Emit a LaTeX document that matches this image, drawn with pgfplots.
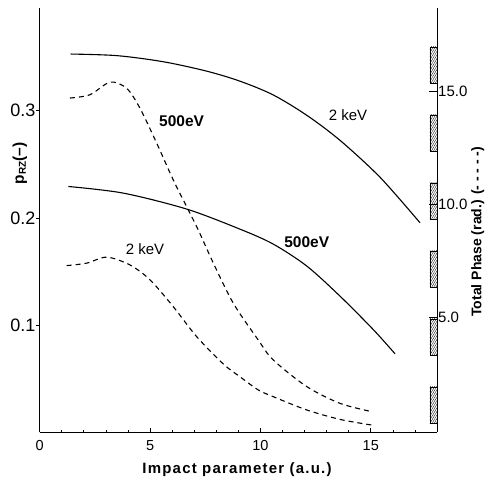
\documentclass[border=0pt]{standalone}
\usepackage{pgfplots}
\pgfplotsset{compat=1.18}
\usetikzlibrary{patterns.meta}
\usepackage{fontspec}
\setmainfont{Liberation Sans}

\pgfplotstableread{
x y
1.4 0.3530
3.5 0.3515
5.6 0.3458
7.57 0.3370
9.08 0.3276
10.58 0.3148
12.1 0.2958
13.6 0.2725
15.42 0.2379
17.23 0.1954
}\solidtwo

\pgfplotstableread{
x y
1.3 0.2293
3.79 0.2231
6.66 0.2082
9.08 0.1894
10.58 0.1755
12.1 0.1550
13.6 0.1270
15.12 0.0955
16.1 0.0730
}\solidfive

\pgfplotstableread{
x y
1.37 0.3119
2.28 0.3150
3.19 0.3268
3.94 0.3210
4.54 0.3025
5.3 0.2698
6.05 0.2355
6.73 0.2075
7.2 0.1880
7.87 0.1576
8.77 0.1203
9.9 0.0860
10.58 0.0673
12.1 0.0424
13.6 0.0268
15.04 0.0190
}\dashfive

\pgfplotstableread{
x y
1.22 0.1554
2.13 0.1577
3.04 0.1633
4.09 0.1560
5.0 0.1421
6.05 0.1171
7.11 0.0891
8.32 0.0635
9.08 0.0515
9.9 0.0393
10.58 0.0330
12.1 0.0206
13.6 0.0118
15.04 0.0065
}\dashtwo

\begin{document}
\begin{tikzpicture}
\begin{axis}[name=ax, scale only axis, width=397.3pt, height=424pt,
  xmin=0, xmax=18, ymin=0, ymax=0.396, clip=false,
  axis x line*=bottom, axis y line*=left,
  axis line style={-, line width=0.8pt},
  tick align=inside, tick style={black, line width=0.7pt},
  xtick={0,5,10,15}, minor xtick={1,2,3,4,6,7,8,9,11,12,13,14,16,17},
  major tick length=4pt, minor tick length=2.5pt,
  ytick={0.1,0.2,0.3}, yticklabels={0.1,0.2,0.3},
  ytick style={xshift=-4pt},
  /pgf/number format/assume math mode=true,
  xticklabel style={font=\fontsize{14.5}{16}\selectfont, yshift=-5pt},
  yticklabel style={font=\fontsize{18}{20}\selectfont, inner sep=1pt, xshift=-3pt},
]
\addplot[black, line width=1.1pt, smooth, tension=0.5] table {\solidtwo};
\addplot[black, line width=1.1pt, smooth, tension=0.5] table {\solidfive};
\addplot[black, line width=1.1pt, smooth, tension=0.5, dash pattern=on 5pt off 4pt] table {\dashfive};
\addplot[black, line width=1.1pt, smooth, tension=0.5, dash pattern=on 5pt off 4pt] table {\dashtwo};

\node[font=\fontsize{15.5}{17}\selectfont\bfseries] at (axis cs:6.43,0.290) {500eV};
\node[font=\fontsize{15.5}{17}\selectfont\bfseries] at (axis cs:12.1,0.177) {500eV};
\node[font=\fontsize{15}{17}\selectfont] at (axis cs:13.97,0.296) {2 keV};
\node[font=\fontsize{15}{17}\selectfont] at (axis cs:4.77,0.1707) {2 keV};

% hatched bars along the right axis
\draw[line width=0.3pt, pattern={Lines[angle=60,distance=1.8pt,line width=0.35pt]}] (axis cs:17.68,0.3262) rectangle (axis cs:18,0.3598);
\draw[line width=0.3pt, pattern={Lines[angle=60,distance=1.8pt,line width=0.35pt]}] (axis cs:17.68,0.2626) rectangle (axis cs:18,0.2963);
\draw[line width=0.3pt, pattern={Lines[angle=60,distance=1.8pt,line width=0.35pt]}] (axis cs:17.68,0.1991) rectangle (axis cs:18,0.2327);
\draw[line width=0.3pt, pattern={Lines[angle=60,distance=1.8pt,line width=0.35pt]}] (axis cs:17.68,0.1355) rectangle (axis cs:18,0.1692);
\draw[line width=0.3pt, pattern={Lines[angle=60,distance=1.8pt,line width=0.35pt]}] (axis cs:17.68,0.0720) rectangle (axis cs:18,0.1056);
\draw[line width=0.3pt, pattern={Lines[angle=60,distance=1.8pt,line width=0.35pt]}] (axis cs:17.68,0.0084) rectangle (axis cs:18,0.0421);

\node[rotate=90, font=\fontsize{15.5}{17}\selectfont\bfseries] at (axis description cs:-0.050,0.634) {p\raisebox{-2pt}{\fontsize{10}{11}\selectfont RZ}(--)};
\node[font=\fontsize{15}{17}\selectfont\bfseries\addfontfeature{LetterSpace=8}] at (axis description cs:0.4966,-0.089) {Impact parameter (a.u.)};
\node[rotate=90, anchor=base west, font=\fontsize{14}{16}\selectfont\bfseries] at (axis description cs:1.1120,0.264) {Total Phase (rad.) (- - - - -)};
\end{axis}
\begin{axis}[scale only axis, width=397.3pt, height=424pt,
  xmin=0, xmax=18, ymin=-0.09, ymax=18.67,
  axis x line=none, axis y line*=right,
  axis line style={-, line width=0.8pt},
  tick align=inside, tick style={black, line width=0.7pt},
  major tick length=8pt,
  ytick={5,10,15}, yticklabels={5.0,10.0,15.0},
  /pgf/number format/assume math mode=true,
  yticklabel style={font=\fontsize{15}{17}\selectfont, inner sep=1pt},
]
\addplot[draw=none] coordinates {(1,1)};
\end{axis}
\pgfresetboundingbox
\path[use as bounding box] ([xshift=-39.7pt,yshift=-45pt]ax.south west) rectangle ([xshift=48pt,yshift=8pt]ax.north east);
\end{tikzpicture}
\end{document}
